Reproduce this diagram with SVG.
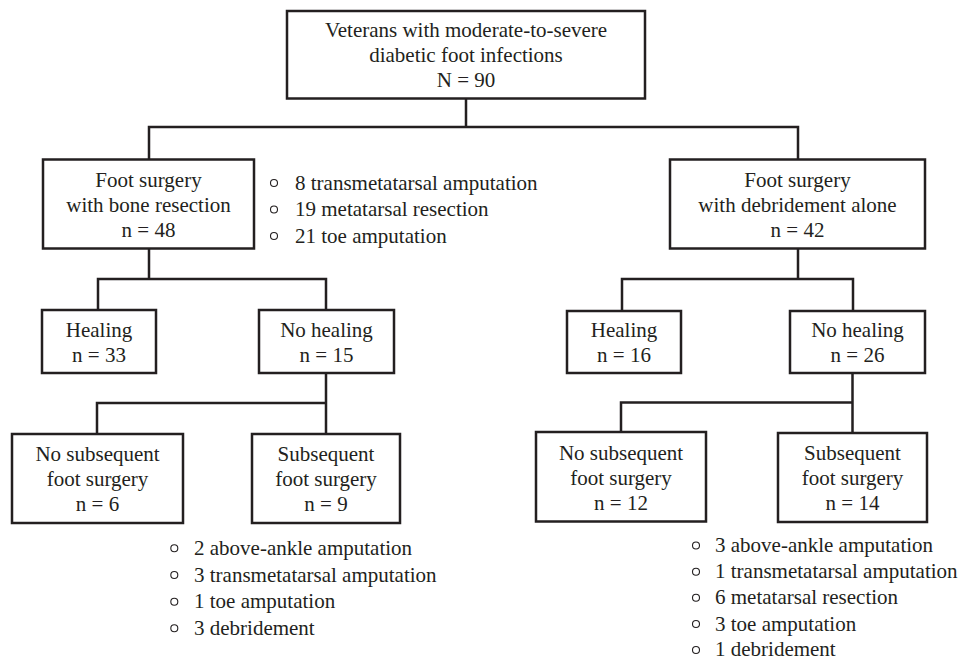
<svg xmlns="http://www.w3.org/2000/svg" width="967" height="661" viewBox="0 0 967 661" font-family="'Liberation Serif', 'Times New Roman', serif">
<style>
.box{fill:#fff;stroke:#231f20;stroke-width:2.5}
.ln{fill:none;stroke:#231f20;stroke-width:2.5;stroke-linecap:square}
text{font-family:"Liberation Serif","Times New Roman",serif;font-size:21px;fill:#231f20}
.c{text-anchor:middle}
.b{fill:none;stroke:#231f20;stroke-width:1.1}
</style>
<rect width="967" height="661" fill="#fff"/>
<g id="connectors">
<path class="ln" d="M466 98.5V127M149 127H798M149 127V159.5M798 127V159.5"/>
<path class="ln" d="M149 248.5V279M98 279H326M98 279V310M326 279V310"/>
<path class="ln" d="M326 373V403M97 403H326M97 403V434M326 403V434"/>
<path class="ln" d="M798 248.5V279M622 279H853M622 279V311M853 279V311"/>
<path class="ln" d="M852.5 373V402.5M621 402.5H852.5M621 402.5V432M852.5 402.5V433"/>
</g>
<g id="n-top">
<rect class="box" x="287" y="11" width="358" height="87.5"/>
<text class="c" x="466" y="37">Veterans with moderate-to-severe</text>
<text class="c" x="466" y="62">diabetic foot infections</text>
<text class="c" x="466" y="87">N = 90</text>
</g>
<g id="n-bone">
<rect class="box" x="43" y="159.5" width="211" height="89"/>
<text class="c" x="148.5" y="186.7">Foot surgery</text>
<text class="c" x="148.5" y="211.5">with bone resection</text>
<text class="c" x="148.5" y="237">n = 48</text>
</g>
<g id="list-bone">
<circle class="b" cx="274" cy="183" r="3.5"/>
<circle class="b" cx="274" cy="209.5" r="3.5"/>
<circle class="b" cx="274" cy="236" r="3.5"/>
<text x="295" y="189.5">8 transmetatarsal amputation</text>
<text x="295" y="216">19 metatarsal resection</text>
<text x="295" y="242.5">21 toe amputation</text>
</g>
<g id="n-debr">
<rect class="box" x="670" y="159.5" width="255" height="89"/>
<text class="c" x="797.5" y="186.7">Foot surgery</text>
<text class="c" x="797.5" y="211.5">with debridement alone</text>
<text class="c" x="797.5" y="237">n = 42</text>
</g>
<g id="n-l-heal">
<rect class="box" x="42" y="310" width="114" height="63"/>
<text class="c" x="99" y="336.7">Healing</text>
<text class="c" x="99" y="361.7">n = 33</text>
</g>
<g id="n-l-noheal">
<rect class="box" x="259" y="310" width="135" height="63"/>
<text class="c" x="326.5" y="336.7">No healing</text>
<text class="c" x="326.5" y="361.7">n = 15</text>
</g>
<g id="n-r-heal">
<rect class="box" x="567" y="311" width="114" height="62"/>
<text class="c" x="624" y="336.7">Healing</text>
<text class="c" x="624" y="361.7">n = 16</text>
</g>
<g id="n-r-noheal">
<rect class="box" x="790" y="311" width="135" height="62"/>
<text class="c" x="857.5" y="336.7">No healing</text>
<text class="c" x="857.5" y="361.7">n = 26</text>
</g>
<g id="n-l-nosub">
<rect class="box" x="12" y="434" width="171" height="89"/>
<text class="c" x="97.5" y="460.5">No subsequent</text>
<text class="c" x="97.5" y="485.5">foot surgery</text>
<text class="c" x="97.5" y="511">n = 6</text>
</g>
<g id="n-l-sub">
<rect class="box" x="252" y="434" width="148" height="89"/>
<text class="c" x="326" y="460.5">Subsequent</text>
<text class="c" x="326" y="485.5">foot surgery</text>
<text class="c" x="326" y="511">n = 9</text>
</g>
<g id="list-l-sub">
<circle class="b" cx="174.3" cy="548.3" r="3.5"/>
<circle class="b" cx="174.3" cy="575" r="3.5"/>
<circle class="b" cx="174.3" cy="601.7" r="3.5"/>
<circle class="b" cx="174.3" cy="628.3" r="3.5"/>
<text x="194" y="555">2 above-ankle amputation</text>
<text x="194" y="581.5">3 transmetatarsal amputation</text>
<text x="194" y="608">1 toe amputation</text>
<text x="194" y="634.5">3 debridement</text>
</g>
<g id="n-r-nosub">
<rect class="box" x="536" y="432" width="170" height="89.5"/>
<text class="c" x="621" y="459.5">No subsequent</text>
<text class="c" x="621" y="484.5">foot surgery</text>
<text class="c" x="621" y="509.5">n = 12</text>
</g>
<g id="n-r-sub">
<rect class="box" x="778" y="433" width="149" height="89"/>
<text class="c" x="852.5" y="459.5">Subsequent</text>
<text class="c" x="852.5" y="484.5">foot surgery</text>
<text class="c" x="852.5" y="509.5">n = 14</text>
</g>
<g id="list-r-sub">
<circle class="b" cx="696" cy="545.5" r="3.5"/>
<circle class="b" cx="696" cy="571.7" r="3.5"/>
<circle class="b" cx="696" cy="597.8" r="3.5"/>
<circle class="b" cx="696" cy="624" r="3.5"/>
<circle class="b" cx="696" cy="650" r="3.5"/>
<text x="715" y="552">3 above-ankle amputation</text>
<text x="715" y="578.2">1 transmetatarsal amputation</text>
<text x="715" y="604.3">6 metatarsal resection</text>
<text x="715" y="630.5">3 toe amputation</text>
<text x="715" y="656.3">1 debridement</text>
</g>
</svg>
